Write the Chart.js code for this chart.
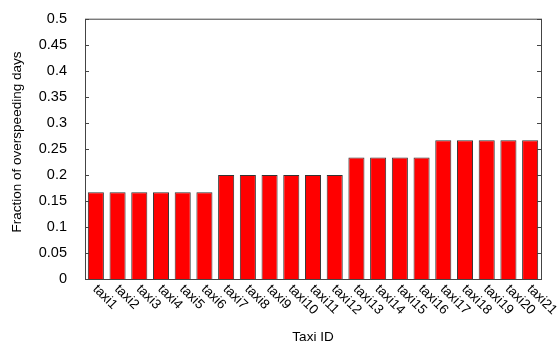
<!DOCTYPE html>
<html>
<head>
<meta charset="utf-8">
<script src="https://cdn.jsdelivr.net/npm/chart.js@4"></script>
<style>
  html, body { margin: 0; padding: 0; background: #fff; }
  #wrap { width: 559px; height: 345px; }
</style>
</head>
<body>
<div id="wrap"><canvas id="canvas" width="559" height="345"></canvas></div>
<script>
/* data */
const taxiIds = ['taxi1','taxi2','taxi3','taxi4','taxi5','taxi6','taxi7','taxi8','taxi9','taxi10',
  'taxi11','taxi12','taxi13','taxi14','taxi15','taxi16','taxi17','taxi18','taxi19','taxi20','taxi21'];
const fraction = [0.1667,0.1667,0.1667,0.1667,0.1667,0.1667,0.2,0.2,0.2,0.2,
  0.2,0.2,0.2333,0.2333,0.2333,0.2333,0.2667,0.2667,0.2667,0.2667,0.2667];
const yMin = 0, yMax = 0.5, yStep = 0.05;
const xTitle = 'Taxi ID';
const yTitle = 'Fraction of overspeeding days';

const FONT = '"Liberation Sans", Arial, sans-serif';

/* box, inward ticks, rotated labels, axis titles */
const gnuplotLook = {
  id: 'gnuplotLook',
  afterDraw(chart) {
    const ctx = chart.ctx;
    const a = chart.chartArea;
    const y = chart.scales.y, x = chart.scales.x;
    ctx.save();
    ctx.strokeStyle = '#444';
    ctx.lineWidth = 1;
    ctx.strokeRect(a.left + 0.5, a.top + 0.5, a.right - a.left, a.bottom - a.top);
    // tick marks pointing inward on both sides
    y.ticks.forEach((t, i) => {
      const py = Math.round(y.getPixelForTick(i)) + 0.5;
      ctx.beginPath();
      ctx.moveTo(a.left, py); ctx.lineTo(a.left + 4, py);
      ctx.moveTo(a.right, py); ctx.lineTo(a.right - 4, py);
      ctx.stroke();
    });
    // x labels, rotated clockwise
    ctx.fillStyle = '#000';
    ctx.font = '13.5px ' + FONT;
    ctx.textAlign = 'left';
    ctx.textBaseline = 'middle';
    taxiIds.forEach((lab, i) => {
      const px = x.getPixelForTick(i);
      ctx.save();
      ctx.translate(px - 1, a.bottom + 8);
      ctx.rotate(Math.PI / 4);
      ctx.fillText(lab, 0, 0);
      ctx.restore();
    });
    // titles
    ctx.textAlign = 'center';
    ctx.fillText(xTitle, (a.left + a.right) / 2, 337);
    ctx.save();
    ctx.translate(17, 142);
    ctx.rotate(-Math.PI / 2);
    ctx.fillText(yTitle, 0, 0);
    ctx.restore();
    ctx.restore();
  }
};

new Chart(document.getElementById('canvas'), {
  type: 'bar',
  data: {
    labels: taxiIds,
    datasets: [{
      data: fraction,
      backgroundColor: '#ff0000',
      borderColor: '#333',
      borderWidth: 1,
      categoryPercentage: 1.0,
      barPercentage: 0.74
    }]
  },
  options: {
    responsive: false,
    animation: false,
    layout: { padding: { top: 16, right: 18, left: 0, bottom: 0 } },
    plugins: { legend: { display: false }, tooltip: { enabled: false } },
    scales: {
      x: {
        grid: { display: false },
        border: { display: false },
        ticks: { display: false },
        afterFit: s => { s.height = 66; }
      },
      y: {
        min: yMin, max: yMax,
        grid: { display: false },
        border: { display: false },
        ticks: {
          stepSize: yStep,
          padding: 10,
          color: '#000',
          font: { family: FONT, size: 14.5 },
          callback: v => +v.toFixed(2)
        },
        afterFit: s => { s.width = 85; }
      }
    }
  },
  plugins: [gnuplotLook]
});
</script>
</body>
</html>
